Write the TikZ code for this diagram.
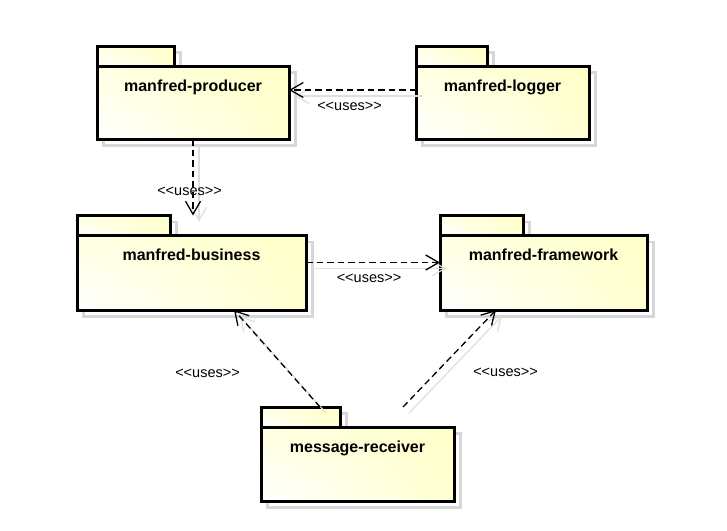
\documentclass[tikz,border=0pt]{standalone}
\usepackage{fontspec}
\setmainfont{Liberation Sans}
\usetikzlibrary{arrows.meta,shadings,calc}
\definecolor{pkgyel}{RGB}{255,255,200}
\definecolor{shgray}{RGB}{214,214,214}
\definecolor{lngray}{RGB}{222,222,222}
\tikzset{
  pkgshadow/.style={draw=shgray, line width=2.5pt},
  pkgpart/.style={draw=black, line width=3pt, outer sep=0pt, inner sep=0pt, rectangle,
    lower left=white, upper left=pkgyel!55!white, upper right=pkgyel, lower right=pkgyel!85!white},
  pkglabel/.style={font=\fontsize{16}{18}\selectfont\bfseries, inner sep=0pt, anchor=base},
  uses/.style={font=\fontsize{14.5}{17}\selectfont, inner sep=0pt},
  dep/.style={draw=black, line width=1.3pt, dash pattern=on 6.5pt off 4pt,
    -{Straight Barb[length=13pt,width=15pt]}},
  depshadow/.style={draw=lngray, line width=1.2pt,
    -{Straight Barb[length=13pt,width=15pt]}, transform canvas={xshift=6pt,yshift=-6pt}},
}
\newcommand\usestext{<{}<uses>{}>}
% #1 name, #2 left x, #3 tab top y, #4 tab right x, #5 right x, #6 bottom y, #7 label
\newcommand\umlpkg[7]{%
  \pgfmathsetmacro\pkgbt{#3+20}%
  \draw[pkgshadow] (#2+6.5,#3+6.5) rectangle (#4+6.5,\pkgbt+6.5);
  \draw[pkgshadow] (#2+6.5,\pkgbt+6.5) rectangle (#5+6.5,#6+6.5);
  \node[pkgpart, anchor=north west, minimum width={#4-#2}, minimum height=20] (#1t) at (#2,#3) {};
  \node[pkgpart, anchor=north west, minimum width={#5-#2}, minimum height={#6-\pkgbt}] (#1) at (#2,\pkgbt) {};
  \node[pkglabel] (#1l) at ([yshift=-25pt]#1.north) {#7};
}
\begin{document}
\begin{tikzpicture}[x=1pt,y=-1pt]
  \fill[white] (0,0) rectangle (727,530);
  \useasboundingbox (0,0) rectangle (727,530);

  \umlpkg{pr}{97}{46}{174}{289}{139}{manfred-producer}
  \umlpkg{lg}{416}{46}{487}{589}{139}{manfred-logger}
  \umlpkg{bu}{77}{215.5}{170}{306}{310}{manfred-business}
  \umlpkg{fw}{440}{215.5}{523}{647}{310}{manfred-framework}
  \umlpkg{mr}{261}{407}{340}{454}{501}{message-receiver}

  % connector shadows
  \draw[depshadow] ([yshift=-24pt]lg.north west) -- ([yshift=-24pt]pr.north east);
  \draw[depshadow] (pr.south) -- (pr.south |- but.north);
  \draw[depshadow] ([yshift=-27pt]bu.north east) -- ([yshift=-27pt]fw.north west);
  \draw[depshadow] ([xshift=19.5pt]mrt.north) -- ([xshift=157pt]bu.south west);
  \draw[depshadow] ([xshift=63pt]mrt.north east) -- ([xshift=56pt]fw.south west);

  % dependencies
  \draw[dep] ([yshift=-24pt]lg.north west) -- ([yshift=-24pt]pr.north east);
  \draw[dep] (pr.south) -- (pr.south |- but.north);
  \draw[dep] ([yshift=-27pt]bu.north east) -- ([yshift=-27pt]fw.north west);
  \draw[dep] ([xshift=19.5pt]mrt.north) -- ([xshift=157pt]bu.south west);
  \draw[dep] ([xshift=63pt]mrt.north east) -- ([xshift=56pt]fw.south west);

  % labels
  \node[uses] (u1) at (349.5,106) {\usestext};
  \node[uses] (u2) at (189.5,191) {\usestext};
  \node[uses] (u3) at (369,278) {\usestext};
  \node[uses] (u4) at (207.5,373) {\usestext};
  \node[uses] (u5) at (505.5,372) {\usestext};
\end{tikzpicture}
\end{document}
